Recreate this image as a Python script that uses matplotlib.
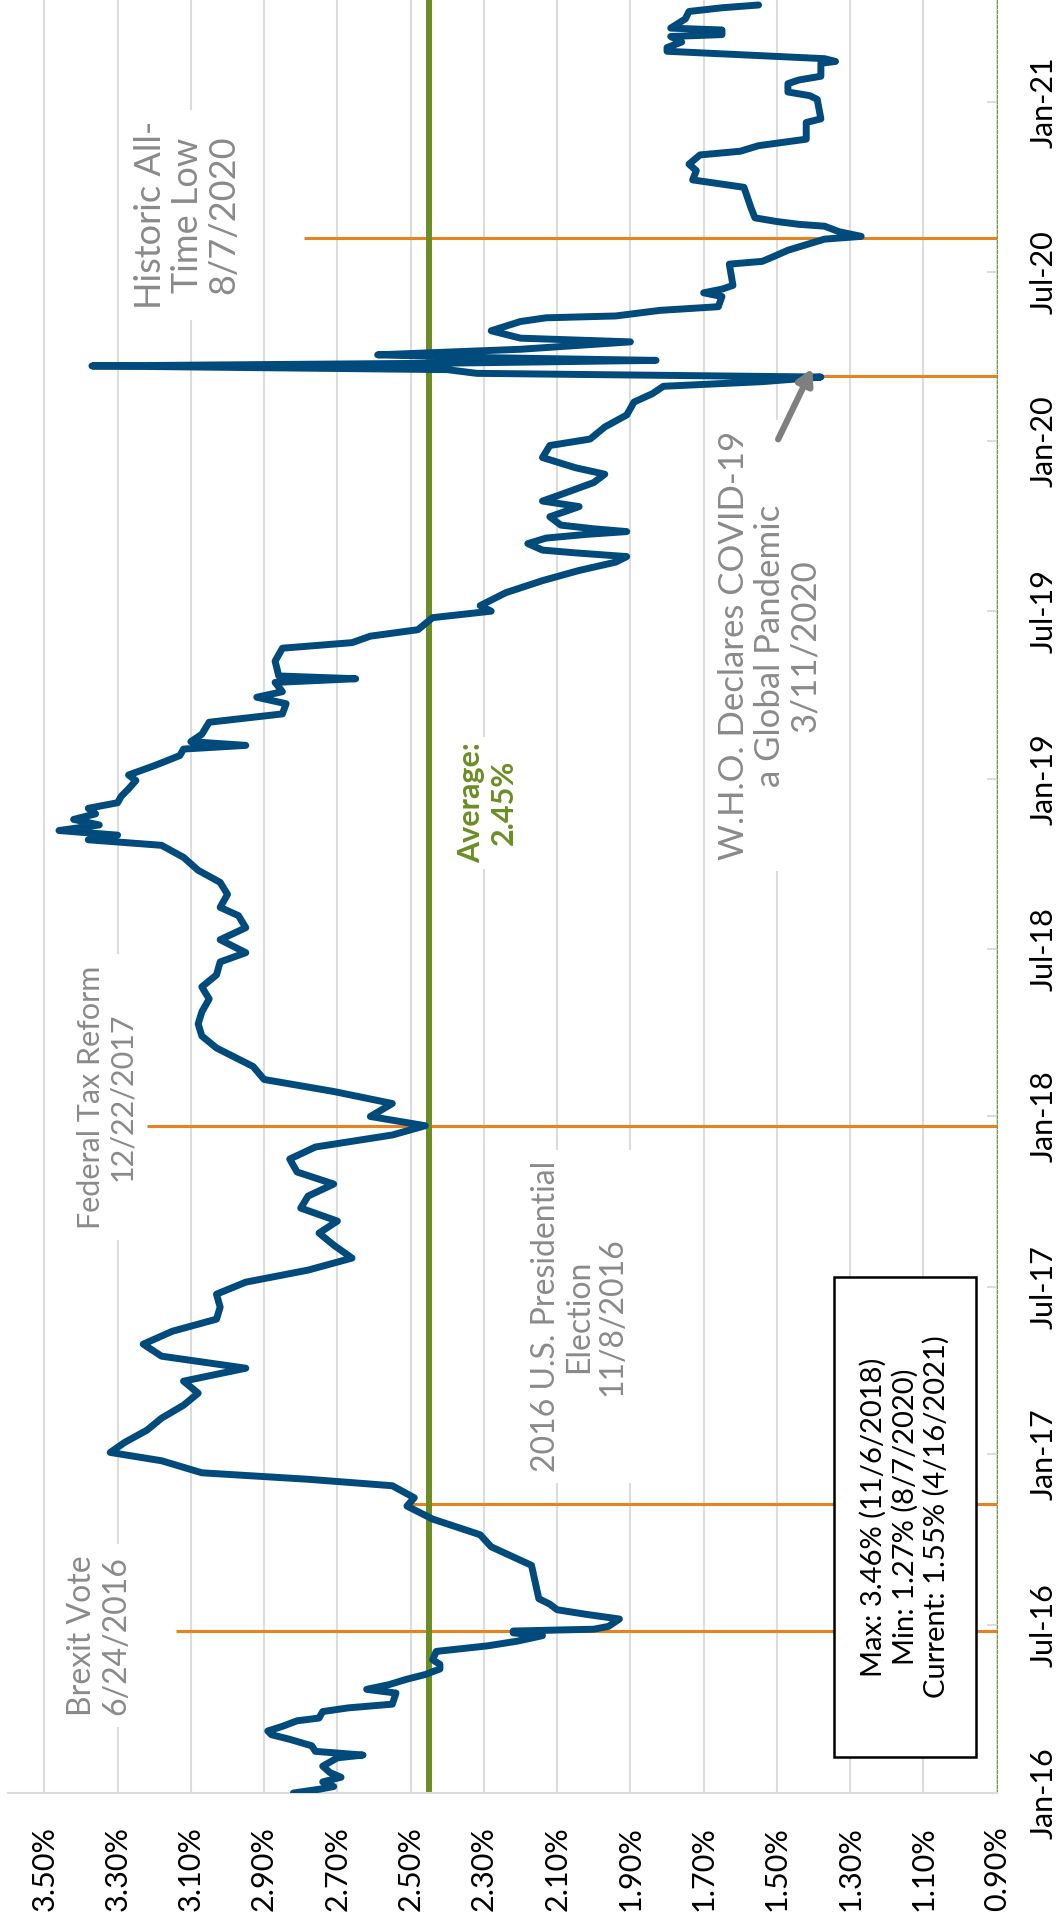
# yield history chart, drawn sideways (dates run bottom->top, rates right->left)

import pandas as pd
import matplotlib
matplotlib.use("Agg")
import matplotlib.pyplot as plt
import matplotlib.dates as mdates
from matplotlib.patches import Rectangle

plt.rcParams["font.family"] = ["Lato", "DejaVu Sans"]

# ============================
# data
# ============================

START = "2016-01-01"

# days after 1/1/2016
DAYS = [
    0, 4, 7, 12, 17, 22, 29, 38, 41, 45, 51, 58, 63, 67, 72, 78, 81, 88, 92, 96,
    108, 112, 117, 123, 128, 134, 139, 144, 153, 159, 164, 170, 173, 175, 177, 180, 188, 193, 198, 204,
    210, 246, 266, 279, 296, 310, 319, 332, 339, 346, 359, 368, 379, 392, 405, 419, 432, 445, 459, 472,
    485, 499, 512, 525, 539, 552, 565, 578, 592, 605, 618, 632, 645, 658, 671, 685, 698, 711, 721, 731,
    745, 758, 771, 785, 805, 818, 831, 844, 858, 871, 884, 898, 908, 922, 935, 948, 957, 971, 984, 997,
    1011, 1024, 1030, 1035, 1040, 1046, 1052, 1058, 1064, 1070, 1077, 1085, 1094, 1100, 1110, 1121, 1128, 1132, 1136, 1144,
    1157, 1166, 1177, 1184, 1190, 1200, 1204, 1207, 1223, 1237, 1243, 1250, 1257, 1270, 1277, 1283, 1297, 1310, 1321, 1330,
    1336, 1340, 1343, 1350, 1356, 1360, 1363, 1366, 1370, 1379, 1390, 1396, 1403, 1416, 1425, 1432, 1443, 1456, 1463, 1476,
    1489, 1503, 1512, 1520, 1525, 1530, 1534, 1538, 1542, 1545, 1548, 1551, 1554, 1560, 1568, 1572, 1580, 1590, 1594, 1596,
    1602, 1606, 1617, 1621, 1625, 1629, 1652, 1655, 1660, 1667, 1673, 1679, 1682, 1687, 1693, 1695, 1698, 1702, 1712, 1735,
    1739, 1743, 1753, 1760, 1770, 1774, 1780, 1787, 1805, 1809, 1830, 1834, 1838, 1847, 1851, 1855, 1869, 1871, 1874, 1882,
    1886, 1892, 1898, 1900, 1905, 1907, 1917, 1925, 1929, 1932,
]

# rate, %
RATE = [
    2.82, 2.75, 2.71, 2.74, 2.69, 2.72, 2.74, 2.70, 2.63, 2.76, 2.77, 2.83, 2.88, 2.89, 2.85, 2.81, 2.75, 2.74, 2.67, 2.55,
    2.54, 2.62, 2.56, 2.51, 2.46, 2.42, 2.42, 2.44, 2.43, 2.29, 2.21, 2.14, 2.22, 2.22, 2.00, 1.96, 1.93, 2.02, 2.10, 2.12,
    2.15, 2.17, 2.28, 2.31, 2.44, 2.51, 2.49, 2.55, 2.78, 3.07, 3.18, 3.32, 3.28, 3.22, 3.18, 3.12, 3.08, 3.12, 2.95, 3.18,
    3.23, 3.15, 3.03, 3.02, 3.03, 2.95, 2.78, 2.66, 2.71, 2.75, 2.70, 2.80, 2.78, 2.71, 2.81, 2.83, 2.76, 2.55, 2.46, 2.61,
    2.55, 2.71, 2.90, 2.93, 3.03, 3.07, 3.08, 3.07, 3.05, 3.07, 3.03, 3.02, 2.95, 3.02, 2.95, 2.97, 3.02, 3.00, 3.02, 3.08,
    3.12, 3.18, 3.38, 3.30, 3.46, 3.35, 3.42, 3.36, 3.38, 3.30, 3.29, 3.27, 3.25, 3.27, 3.20, 3.13, 3.12, 2.95, 3.10, 3.07,
    3.05, 2.85, 2.84, 2.92, 2.85, 2.87, 2.65, 2.86, 2.87, 2.85, 2.66, 2.61, 2.48, 2.44, 2.28, 2.31, 2.24, 2.14, 2.04, 1.94,
    1.91, 2.05, 2.14, 2.18, 2.13, 2.02, 1.91, 2.00, 2.09, 2.12, 2.04, 2.14, 2.09, 2.00, 1.97, 2.05, 2.14, 2.12, 2.01, 1.97,
    1.91, 1.89, 1.84, 1.81, 1.54, 1.38, 2.32, 2.40, 3.37, 2.40, 1.83, 2.30, 2.59, 2.20, 1.90, 2.20, 2.28, 2.20, 2.13, 1.94,
    1.82, 1.66, 1.65, 1.70, 1.65, 1.62, 1.63, 1.54, 1.51, 1.47, 1.42, 1.37, 1.27, 1.33, 1.37, 1.44, 1.50, 1.56, 1.57, 1.59,
    1.66, 1.73, 1.72, 1.74, 1.71, 1.60, 1.55, 1.42, 1.42, 1.38, 1.39, 1.41, 1.47, 1.47, 1.44, 1.38, 1.38, 1.34, 1.37, 1.80,
    1.80, 1.76, 1.79, 1.65, 1.65, 1.79, 1.75, 1.74, 1.65, 1.55,
]

AVERAGE = 2.45

VALUE_TICKS = [3.5, 3.3, 3.1, 2.9, 2.7, 2.5, 2.3, 2.1, 1.9, 1.7, 1.5, 1.3, 1.1, 0.9]
VALUE_LABELS = ["3.50%", "3.30%", "3.10%", "2.90%", "2.70%", "2.50%", "2.30%",
                "2.10%", "1.90%", "1.70%", "1.50%", "1.30%", "1.10%", "0.90%"]

EVENT_DATES = ["2016-06-24", "2016-11-08", "2017-12-22", "2020-03-11", "2020-08-07"]
EVENT_TEXT = [
    "Brexit Vote\n6/24/2016",
    "2016 U.S. Presidential\nElection\n11/8/2016",
    "Federal Tax Reform\n12/22/2017",
    "W.H.O. Declares COVID-19\na Global Pandemic\n3/11/2020",
    "Historic All-\nTime Low\n8/7/2020",
]

STATS_TEXT = "Max: 3.46% (11/6/2018)\nMin: 1.27% (8/7/2020)\nCurrent: 1.55% (4/16/2021)"

# ============================
# figure
# ============================

BLUE = "#004a7c"
GREEN = "#6b8e23"
ORANGE = "#e8821e"
GRID = "#dcdcdc"
GREY_TXT = "#8a8a8a"

start = pd.Timestamp(START)
day0 = mdates.date2num(start)
dates = start + pd.to_timedelta(DAYS, unit="D")

fig = plt.figure(figsize=(10.59, 19.30), dpi=100)
ax = fig.add_axes([7.7 / 1059, 137 / 1930, 989 / 1059, 1793 / 1930])

ax.set_xlim(3.6, 0.9)
ax.set_ylim(day0, day0 + 1937.4)

# gridlines (vertical because the chart is turned)
for v in VALUE_TICKS:
    ax.axvline(v, color=GRID, lw=1.5, zorder=0)

ax.set_xticks(VALUE_TICKS)
ax.set_xticklabels(VALUE_LABELS, rotation=90, fontsize=22)
ax.tick_params(axis="x", length=0, pad=24)

ax.yaxis.tick_right()
ax.yaxis.set_major_locator(mdates.MonthLocator(bymonth=(1, 7)))
ax.yaxis.set_major_formatter(mdates.DateFormatter("%b-%y"))
ax.tick_params(axis="y", direction="in", length=7, width=1.4, color=GRID,
               labelsize=22, pad=24)
for lab in ax.get_yticklabels():
    lab.set_rotation(90)
    lab.set_va("center")

for side in ["left", "top"]:
    ax.spines[side].set_visible(False)
ax.spines["bottom"].set_color(GRID)
ax.spines["bottom"].set_linewidth(1.5)
ax.spines["right"].set_color("#7a9a4a")
ax.spines["right"].set_linewidth(0.8)
ax.spines["right"].set_linestyle((0, (3, 1.5)))

# event lines: value where each orange line begins
event_from = [3.14, 2.51, 3.22, 1.38, 2.79]
for d, v0 in zip(EVENT_DATES, event_from):
    y = mdates.date2num(pd.Timestamp(d))
    ax.plot([v0, 0.9], [y, y], color=ORANGE, lw=2.2, zorder=1.5, solid_capstyle="butt")

# average line
ax.axvline(AVERAGE, color=GREEN, lw=4.3, zorder=2)
ax.text(2.29, day0 + 1070, "Average:\n2.45%", rotation=90,
        ha="center", va="center", multialignment="center", fontsize=22,
        fontweight="bold", color=GREEN, zorder=2.5,
        bbox=dict(facecolor="white", edgecolor="none", pad=4))

# annotation text: (value, day, font size)
text_pos = [(3.35, 170, 23), (2.04, 515, 23), (3.33, 752, 22), (1.52, 1240, 25), (3.11, 1705, 26)]
for txt, (v, d, fs) in zip(EVENT_TEXT, text_pos):
    ax.text(v, day0 + d, txt, rotation=90, ha="center", va="center",
            multialignment="center", fontsize=fs, color=GREY_TXT, zorder=2.5,
            linespacing=1.15,
            bbox=dict(facecolor="white", edgecolor="none", pad=8))

# arrow to the WHO date
ax.annotate("", xy=(1.40, day0 + 1542), xytext=(1.50, day0 + 1460),
            arrowprops=dict(arrowstyle="-|>,head_length=0.9,head_width=0.5",
                            color="#7f7f7f", lw=4.5), zorder=3.5)

# the series
ax.plot(RATE, dates, color=BLUE, lw=5, solid_joinstyle="round",
        solid_capstyle="round", zorder=3)

# stats box
ax.add_patch(Rectangle((0.8355, 0.0201), 0.1435, 0.2677, transform=ax.transAxes,
                       facecolor="white", edgecolor="black", lw=1.8, zorder=4))
ax.text(0.9073, 0.154, STATS_TEXT, transform=ax.transAxes, rotation=90,
        ha="center", va="center", multialignment="center", fontsize=21,
        color="black", zorder=5, linespacing=1.2)

fig.savefig("out.png", dpi=100)
